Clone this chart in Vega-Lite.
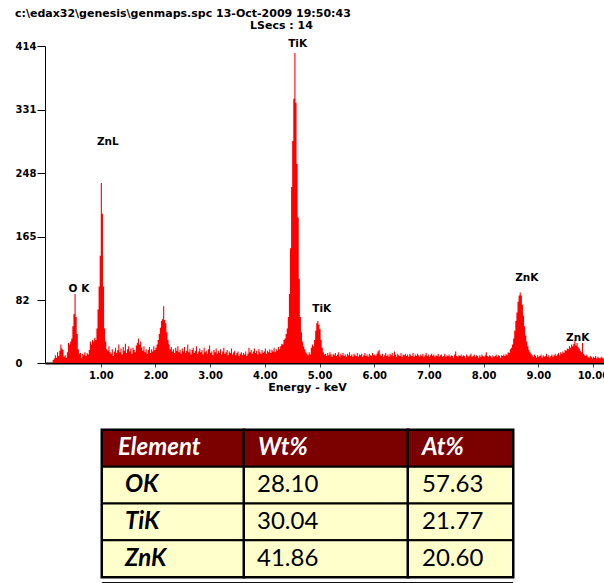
{
  "$schema": "https://vega.github.io/schema/vega-lite/v6.json",
  "padding": {"left": 15, "top": 8, "right": 0, "bottom": 0},
  "background": "white",
  "title": {"text": "c:\\edax32\\genesis\\genmaps.spc  13-Oct-2009 19:50:43", "anchor": "start", "frame": "bounds", "font": "DejaVu Sans", "fontWeight": "bold", "fontSize": 11, "color": "black", "offset": 1},
  "config": {"view": {"stroke": null}},
  "spacing": 35,
  "datasets": {
    "tbl": [
      {"r": "h", "k": "head", "el": "Element", "wt": "Wt%", "at": "At%"},
      {"r": "OK", "k": "body", "el": "\u00a0OK", "wt": "28.10", "at": "57.63"},
      {"r": "TiK", "k": "body", "el": "TiK", "wt": "30.04", "at": "21.77"},
      {"r": "ZnK", "k": "body", "el": "ZnK", "wt": "41.86", "at": "20.60"}
    ],
    "peaks": [
      {"e": 0.6, "c": 97, "t": "O K"},
      {"e": 1.13, "c": 289, "t": "ZnL"},
      {"e": 4.6, "c": 416, "t": "TiK"},
      {"e": 5.04, "c": 70, "t": "TiK"},
      {"e": 8.79, "c": 111, "t": "ZnK"},
      {"e": 9.72, "c": 33, "t": "ZnK"}
    ],
    "spec": [
      {"e":0.10,"c":0},{"e":0.12,"c":4},{"e":0.14,"c":6},{"e":0.16,"c":10},{"e":0.18,"c":7},{"e":0.20,"c":14},{"e":0.22,"c":9},{"e":0.24,"c":16},{"e":0.26,"c":24},{"e":0.28,"c":19},
      {"e":0.30,"c":17},{"e":0.32,"c":8},{"e":0.34,"c":10},{"e":0.36,"c":7},{"e":0.38,"c":14},{"e":0.40,"c":26},{"e":0.42,"c":24},{"e":0.44,"c":28},{"e":0.46,"c":32},{"e":0.48,"c":48},
      {"e":0.50,"c":64},{"e":0.52,"c":90},{"e":0.54,"c":60},{"e":0.56,"c":38},{"e":0.58,"c":18},{"e":0.60,"c":12},{"e":0.62,"c":13},{"e":0.64,"c":7},{"e":0.66,"c":12},{"e":0.68,"c":10},
      {"e":0.70,"c":14},{"e":0.72,"c":9},{"e":0.74,"c":13},{"e":0.76,"c":11},{"e":0.78,"c":17},{"e":0.80,"c":28},{"e":0.82,"c":24},{"e":0.84,"c":30},{"e":0.86,"c":28},{"e":0.88,"c":33},
      {"e":0.90,"c":30},{"e":0.92,"c":45},{"e":0.94,"c":70},{"e":0.96,"c":100},{"e":0.98,"c":140},{"e":1.00,"c":235},{"e":1.02,"c":195},{"e":1.04,"c":100},{"e":1.06,"c":45},{"e":1.08,"c":28},
      {"e":1.10,"c":18},{"e":1.12,"c":16},{"e":1.14,"c":22},{"e":1.16,"c":14},{"e":1.18,"c":12},{"e":1.20,"c":18},{"e":1.22,"c":9},{"e":1.24,"c":15},{"e":1.26,"c":20},{"e":1.28,"c":13},
      {"e":1.30,"c":17},{"e":1.32,"c":24},{"e":1.34,"c":14},{"e":1.36,"c":19},{"e":1.38,"c":11},{"e":1.40,"c":21},{"e":1.42,"c":16},{"e":1.44,"c":25},{"e":1.46,"c":13},{"e":1.48,"c":18},
      {"e":1.50,"c":22},{"e":1.52,"c":15},{"e":1.54,"c":19},{"e":1.56,"c":12},{"e":1.58,"c":20},{"e":1.60,"c":17},{"e":1.62,"c":14},{"e":1.64,"c":23},{"e":1.66,"c":26},{"e":1.68,"c":32},
      {"e":1.70,"c":24},{"e":1.72,"c":28},{"e":1.74,"c":20},{"e":1.76,"c":16},{"e":1.78,"c":22},{"e":1.80,"c":14},{"e":1.82,"c":18},{"e":1.84,"c":12},{"e":1.86,"c":17},{"e":1.88,"c":21},
      {"e":1.90,"c":13},{"e":1.92,"c":18},{"e":1.94,"c":15},{"e":1.96,"c":22},{"e":1.98,"c":17},{"e":2.00,"c":20},{"e":2.02,"c":24},{"e":2.04,"c":30},{"e":2.06,"c":38},{"e":2.08,"c":46},
      {"e":2.10,"c":55},{"e":2.12,"c":57},{"e":2.14,"c":74},{"e":2.16,"c":56},{"e":2.18,"c":52},{"e":2.20,"c":40},{"e":2.22,"c":30},{"e":2.24,"c":24},{"e":2.26,"c":18},{"e":2.28,"c":21},
      {"e":2.30,"c":15},{"e":2.32,"c":18},{"e":2.34,"c":13},{"e":2.36,"c":20},{"e":2.38,"c":16},{"e":2.40,"c":22},{"e":2.42,"c":14},{"e":2.44,"c":17},{"e":2.46,"c":12},{"e":2.48,"c":19},
      {"e":2.50,"c":15},{"e":2.52,"c":21},{"e":2.54,"c":13},{"e":2.56,"c":16},{"e":2.58,"c":24},{"e":2.60,"c":14},{"e":2.62,"c":18},{"e":2.64,"c":11},{"e":2.66,"c":17},{"e":2.68,"c":20},
      {"e":2.70,"c":13},{"e":2.72,"c":16},{"e":2.74,"c":22},{"e":2.76,"c":12},{"e":2.78,"c":15},{"e":2.80,"c":19},{"e":2.82,"c":14},{"e":2.84,"c":17},{"e":2.86,"c":11},{"e":2.88,"c":20},
      {"e":2.90,"c":14},{"e":2.92,"c":16},{"e":2.94,"c":12},{"e":2.96,"c":18},{"e":2.98,"c":23},{"e":3.00,"c":13},{"e":3.02,"c":15},{"e":3.04,"c":10},{"e":3.06,"c":17},{"e":3.08,"c":14},
      {"e":3.10,"c":19},{"e":3.12,"c":12},{"e":3.14,"c":16},{"e":3.16,"c":13},{"e":3.18,"c":18},{"e":3.20,"c":11},{"e":3.22,"c":15},{"e":3.24,"c":20},{"e":3.26,"c":12},{"e":3.28,"c":14},
      {"e":3.30,"c":17},{"e":3.32,"c":10},{"e":3.34,"c":15},{"e":3.36,"c":13},{"e":3.38,"c":19},{"e":3.40,"c":11},{"e":3.42,"c":14},{"e":3.44,"c":16},{"e":3.46,"c":10},{"e":3.48,"c":13},
      {"e":3.50,"c":15},{"e":3.52,"c":9},{"e":3.54,"c":12},{"e":3.56,"c":14},{"e":3.58,"c":10},{"e":3.60,"c":13},{"e":3.62,"c":11},{"e":3.64,"c":15},{"e":3.66,"c":9},{"e":3.68,"c":12},
      {"e":3.70,"c":20},{"e":3.72,"c":14},{"e":3.74,"c":17},{"e":3.76,"c":12},{"e":3.78,"c":15},{"e":3.80,"c":19},{"e":3.82,"c":13},{"e":3.84,"c":16},{"e":3.86,"c":11},{"e":3.88,"c":18},
      {"e":3.90,"c":14},{"e":3.92,"c":12},{"e":3.94,"c":17},{"e":3.96,"c":13},{"e":3.98,"c":15},{"e":4.00,"c":19},{"e":4.02,"c":12},{"e":4.04,"c":16},{"e":4.06,"c":14},{"e":4.08,"c":18},
      {"e":4.10,"c":13},{"e":4.12,"c":17},{"e":4.14,"c":15},{"e":4.16,"c":20},{"e":4.18,"c":14},{"e":4.20,"c":18},{"e":4.22,"c":16},{"e":4.24,"c":21},{"e":4.26,"c":18},{"e":4.28,"c":22},
      {"e":4.30,"c":25},{"e":4.32,"c":24},{"e":4.34,"c":30},{"e":4.36,"c":32},{"e":4.38,"c":38},{"e":4.40,"c":45},{"e":4.42,"c":60},{"e":4.44,"c":90},{"e":4.46,"c":150},{"e":4.48,"c":230},
      {"e":4.50,"c":290},{"e":4.52,"c":345},{"e":4.54,"c":405},{"e":4.56,"c":340},{"e":4.58,"c":260},{"e":4.60,"c":190},{"e":4.62,"c":110},{"e":4.64,"c":60},{"e":4.66,"c":40},{"e":4.68,"c":28},
      {"e":4.70,"c":22},{"e":4.72,"c":18},{"e":4.74,"c":14},{"e":4.76,"c":12},{"e":4.78,"c":10},{"e":4.80,"c":14},{"e":4.82,"c":11},{"e":4.84,"c":20},{"e":4.86,"c":24},{"e":4.88,"c":22},
      {"e":4.90,"c":30},{"e":4.92,"c":42},{"e":4.94,"c":52},{"e":4.96,"c":55},{"e":4.98,"c":50},{"e":5.00,"c":44},{"e":5.02,"c":30},{"e":5.04,"c":20},{"e":5.06,"c":14},{"e":5.08,"c":11},
      {"e":5.10,"c":12},{"e":5.12,"c":9},{"e":5.14,"c":13},{"e":5.16,"c":10},{"e":5.18,"c":14},{"e":5.20,"c":11},{"e":5.22,"c":8},{"e":5.24,"c":12},{"e":5.26,"c":10},{"e":5.28,"c":13},
      {"e":5.30,"c":9},{"e":5.32,"c":11},{"e":5.34,"c":14},{"e":5.36,"c":8},{"e":5.38,"c":12},{"e":5.40,"c":10},{"e":5.42,"c":13},{"e":5.44,"c":9},{"e":5.46,"c":11},{"e":5.48,"c":8},
      {"e":5.50,"c":12},{"e":5.52,"c":10},{"e":5.54,"c":14},{"e":5.56,"c":9},{"e":5.58,"c":11},{"e":5.60,"c":8},{"e":5.62,"c":12},{"e":5.64,"c":10},{"e":5.66,"c":9},{"e":5.68,"c":13},
      {"e":5.70,"c":8},{"e":5.72,"c":11},{"e":5.74,"c":10},{"e":5.76,"c":12},{"e":5.78,"c":8},{"e":5.80,"c":10},{"e":5.82,"c":13},{"e":5.84,"c":9},{"e":5.86,"c":11},{"e":5.88,"c":8},
      {"e":5.90,"c":12},{"e":5.92,"c":10},{"e":5.94,"c":9},{"e":5.96,"c":13},{"e":5.98,"c":10},{"e":6.00,"c":11},{"e":6.02,"c":9},{"e":6.04,"c":12},{"e":6.06,"c":15},{"e":6.08,"c":17},
      {"e":6.10,"c":11},{"e":6.12,"c":9},{"e":6.14,"c":12},{"e":6.16,"c":8},{"e":6.18,"c":10},{"e":6.20,"c":13},{"e":6.22,"c":9},{"e":6.24,"c":11},{"e":6.26,"c":8},{"e":6.28,"c":12},
      {"e":6.30,"c":10},{"e":6.32,"c":13},{"e":6.34,"c":9},{"e":6.36,"c":15},{"e":6.38,"c":11},{"e":6.40,"c":8},{"e":6.42,"c":12},{"e":6.44,"c":10},{"e":6.46,"c":9},{"e":6.48,"c":13},
      {"e":6.50,"c":8},{"e":6.52,"c":11},{"e":6.54,"c":10},{"e":6.56,"c":12},{"e":6.58,"c":9},{"e":6.60,"c":11},{"e":6.62,"c":8},{"e":6.64,"c":12},{"e":6.66,"c":10},{"e":6.68,"c":9},
      {"e":6.70,"c":13},{"e":6.72,"c":8},{"e":6.74,"c":11},{"e":6.76,"c":9},{"e":6.78,"c":12},{"e":6.80,"c":10},{"e":6.82,"c":8},{"e":6.84,"c":11},{"e":6.86,"c":9},{"e":6.88,"c":12},
      {"e":6.90,"c":8},{"e":6.92,"c":10},{"e":6.94,"c":13},{"e":6.96,"c":9},{"e":6.98,"c":11},{"e":7.00,"c":8},{"e":7.02,"c":10},{"e":7.04,"c":12},{"e":7.06,"c":9},{"e":7.08,"c":11},
      {"e":7.10,"c":8},{"e":7.12,"c":10},{"e":7.14,"c":9},{"e":7.16,"c":12},{"e":7.18,"c":8},{"e":7.20,"c":10},{"e":7.22,"c":11},{"e":7.24,"c":8},{"e":7.26,"c":9},{"e":7.28,"c":12},
      {"e":7.30,"c":8},{"e":7.32,"c":10},{"e":7.34,"c":9},{"e":7.36,"c":11},{"e":7.38,"c":8},{"e":7.40,"c":10},{"e":7.42,"c":9},{"e":7.44,"c":7},{"e":7.46,"c":11},{"e":7.48,"c":15},
      {"e":7.50,"c":9},{"e":7.52,"c":8},{"e":7.54,"c":10},{"e":7.56,"c":9},{"e":7.58,"c":11},{"e":7.60,"c":8},{"e":7.62,"c":10},{"e":7.64,"c":9},{"e":7.66,"c":7},{"e":7.68,"c":11},
      {"e":7.70,"c":9},{"e":7.72,"c":8},{"e":7.74,"c":10},{"e":7.76,"c":12},{"e":7.78,"c":8},{"e":7.80,"c":9},{"e":7.82,"c":11},{"e":7.84,"c":8},{"e":7.86,"c":10},{"e":7.88,"c":9},
      {"e":7.90,"c":7},{"e":7.92,"c":10},{"e":7.94,"c":8},{"e":7.96,"c":11},{"e":7.98,"c":9},{"e":8.00,"c":8},{"e":8.02,"c":10},{"e":8.04,"c":14},{"e":8.06,"c":9},{"e":8.08,"c":8},
      {"e":8.10,"c":10},{"e":8.12,"c":9},{"e":8.14,"c":7},{"e":8.16,"c":10},{"e":8.18,"c":8},{"e":8.20,"c":9},{"e":8.22,"c":11},{"e":8.24,"c":8},{"e":8.26,"c":10},{"e":8.28,"c":9},
      {"e":8.30,"c":7},{"e":8.32,"c":10},{"e":8.34,"c":9},{"e":8.36,"c":11},{"e":8.38,"c":9},{"e":8.40,"c":12},{"e":8.42,"c":10},{"e":8.44,"c":14},{"e":8.46,"c":13},{"e":8.48,"c":18},
      {"e":8.50,"c":20},{"e":8.52,"c":24},{"e":8.54,"c":32},{"e":8.56,"c":42},{"e":8.58,"c":55},{"e":8.60,"c":66},{"e":8.62,"c":80},{"e":8.64,"c":88},{"e":8.66,"c":92},{"e":8.68,"c":88},
      {"e":8.70,"c":76},{"e":8.72,"c":62},{"e":8.74,"c":48},{"e":8.76,"c":36},{"e":8.78,"c":28},{"e":8.80,"c":22},{"e":8.82,"c":17},{"e":8.84,"c":14},{"e":8.86,"c":12},{"e":8.88,"c":10},
      {"e":8.90,"c":8},{"e":8.92,"c":11},{"e":8.94,"c":9},{"e":8.96,"c":7},{"e":8.98,"c":10},{"e":9.00,"c":8},{"e":9.02,"c":9},{"e":9.04,"c":11},{"e":9.06,"c":7},{"e":9.08,"c":10},
      {"e":9.10,"c":8},{"e":9.12,"c":9},{"e":9.14,"c":12},{"e":9.16,"c":8},{"e":9.18,"c":10},{"e":9.20,"c":7},{"e":9.22,"c":9},{"e":9.24,"c":11},{"e":9.26,"c":8},{"e":9.28,"c":10},
      {"e":9.30,"c":12},{"e":9.32,"c":9},{"e":9.34,"c":11},{"e":9.36,"c":13},{"e":9.38,"c":10},{"e":9.40,"c":14},{"e":9.42,"c":12},{"e":9.44,"c":15},{"e":9.46,"c":13},{"e":9.48,"c":17},
      {"e":9.50,"c":16},{"e":9.52,"c":19},{"e":9.54,"c":18},{"e":9.56,"c":22},{"e":9.58,"c":20},{"e":9.60,"c":24},{"e":9.62,"c":22},{"e":9.64,"c":25},{"e":9.66,"c":30},{"e":9.68,"c":23},
      {"e":9.70,"c":26},{"e":9.72,"c":21},{"e":9.74,"c":19},{"e":9.76,"c":16},{"e":9.78,"c":14},{"e":9.80,"c":26},{"e":9.82,"c":12},{"e":9.84,"c":10},{"e":9.86,"c":9},{"e":9.88,"c":11},
      {"e":9.90,"c":8},{"e":9.92,"c":7},{"e":9.94,"c":9},{"e":9.96,"c":8},{"e":9.98,"c":6},{"e":10.00,"c":8},{"e":10.02,"c":7},{"e":10.04,"c":9},{"e":10.06,"c":6},{"e":10.08,"c":8},
      {"e":10.10,"c":7},{"e":10.12,"c":6},{"e":10.14,"c":8},{"e":10.16,"c":7},{"e":10.18,"c":6},{"e":10.20,"c":7}
    ]
  },
  "vconcat": [
    {
      "width": 560,
      "height": 317,
      "view": {"stroke": null},
      "title": {"text": "LSecs :  14", "anchor": "start", "frame": "group", "dx": 205, "font": "DejaVu Sans", "fontWeight": "bold", "fontSize": 11, "color": "black", "offset": 8},
      "layer": [
        {
          "data": {"name": "spec"},
          "mark": {"type": "area", "interpolate": "step-after", "color": "#FF0000", "clip": true},
          "encoding": {
            "x": {"field": "e", "type": "quantitative",
              "scale": {"domain": [-0.02, 10.22], "nice": false, "zero": false},
              "axis": {"values": [1, 2, 3, 4, 5, 6, 7, 8, 9, 10], "format": ".2f", "grid": false,
                "tickSize": 4, "tickColor": "#444444", "domainColor": "black", "domainWidth": 2,
                "labelPadding": 3, "labelFont": "DejaVu Sans", "labelFontWeight": "bold", "labelFontSize": 10, "labelColor": "black", "labelFlush": false, "labelOverlap": false,
                "title": "Energy - keV", "titleFont": "DejaVu Sans", "titleFontWeight": "bold", "titleFontSize": 11, "titleColor": "black", "titleX": 262, "titlePadding": 1}},
            "y": {"field": "c", "type": "quantitative",
              "scale": {"domain": [0, 414], "nice": false},
              "axis": {"values": [0, 82, 165, 248, 331, 414], "grid": false, "title": null,
                "tickSize": 8, "tickColor": "black", "domainColor": "black", "domainWidth": 1,
                "labelAlign": "left", "labelPadding": 22, "labelFont": "DejaVu Sans", "labelFontWeight": "bold", "labelFontSize": 10, "labelColor": "black", "labelFlush": false, "labelOverlap": false}}
          }
        },
        {
          "data": {"name": "peaks"},
          "mark": {"type": "text", "font": "DejaVu Sans", "fontWeight": "bold", "fontSize": 10.5, "color": "black", "baseline": "middle"},
          "encoding": {
            "x": {"field": "e", "type": "quantitative"},
            "y": {"field": "c", "type": "quantitative"},
            "text": {"field": "t"}
          }
        }
      ]
    },
    {
      "spacing": 0,
      "bounds": "flush",
      "hconcat": [
        {
          "width": 57, "height": 147,
          "view": {"stroke": null},
          "data": {"values": [{}]},
          "mark": {"type": "text"},
          "encoding": {"text": {"value": ""}}
        },
        {
          "width": 142, "height": 147,
          "view": {"stroke": "black", "strokeWidth": 3},
          "data": {"name": "tbl"},
          "encoding": {"y": {"field": "r", "type": "nominal", "sort": null, "scale": {"domain": ["h", "OK", "TiK", "ZnK"], "paddingInner": 0, "paddingOuter": 0}, "axis": null}},
          "layer": [
            {"mark": {"type": "rect", "stroke": "black", "strokeWidth": 2},
             "encoding": {"x": {"value": 0}, "x2": {"value": "width"}, "fill": {"field": "k", "type": "nominal", "scale": {"domain": ["head", "body"], "range": ["#7B0000", "#FFFFCC"]}, "legend": null}}},
            {"transform": [{"filter": "datum.k == 'head'"}],
             "mark": {"type": "text", "align": "left", "baseline": "middle", "dx": 16, "font": "Lato", "fontSize": 24, "fontWeight": "bold", "fontStyle": "italic", "color": "white"},
             "encoding": {"x": {"value": 0}, "text": {"field": "el"}}},
            {"transform": [{"filter": "datum.k == 'body'"}],
             "mark": {"type": "text", "align": "left", "baseline": "middle", "dx": 23, "font": "Lato", "fontSize": 24, "fontWeight": "bold", "fontStyle": "italic", "color": "black"},
             "encoding": {"x": {"value": 0}, "text": {"field": "el"}}},
            {"mark": {"type": "rule", "color": "black", "strokeWidth": 3, "yOffset": 7},
             "encoding": {"x": {"value": 0}, "x2": {"value": "width"}, "y": {"value": "height"}}}
          ]
        },
        {
          "width": 164, "height": 147,
          "view": {"stroke": "black", "strokeWidth": 3},
          "data": {"name": "tbl"},
          "encoding": {"y": {"field": "r", "type": "nominal", "sort": null, "scale": {"domain": ["h", "OK", "TiK", "ZnK"], "paddingInner": 0, "paddingOuter": 0}, "axis": null}},
          "layer": [
            {"mark": {"type": "rect", "stroke": "black", "strokeWidth": 2},
             "encoding": {"x": {"value": 0}, "x2": {"value": "width"}, "fill": {"field": "k", "type": "nominal", "scale": {"domain": ["head", "body"], "range": ["#7B0000", "#FFFFCC"]}, "legend": null}}},
            {"transform": [{"filter": "datum.k == 'head'"}],
             "mark": {"type": "text", "align": "left", "baseline": "middle", "dx": 14, "font": "Lato", "fontSize": 24, "fontWeight": "bold", "fontStyle": "italic", "color": "white"},
             "encoding": {"x": {"value": 0}, "text": {"field": "wt"}}},
            {"transform": [{"filter": "datum.k == 'body'"}],
             "mark": {"type": "text", "align": "left", "baseline": "middle", "dx": 13, "font": "Lato", "fontSize": 24, "color": "black"},
             "encoding": {"x": {"value": 0}, "text": {"field": "wt"}}},
            {"mark": {"type": "rule", "color": "black", "strokeWidth": 3, "yOffset": 7},
             "encoding": {"x": {"value": 0}, "x2": {"value": "width"}, "y": {"value": "height"}}}
          ]
        },
        {
          "width": 105, "height": 147,
          "view": {"stroke": "black", "strokeWidth": 3},
          "data": {"name": "tbl"},
          "encoding": {"y": {"field": "r", "type": "nominal", "sort": null, "scale": {"domain": ["h", "OK", "TiK", "ZnK"], "paddingInner": 0, "paddingOuter": 0}, "axis": null}},
          "layer": [
            {"mark": {"type": "rect", "stroke": "black", "strokeWidth": 2},
             "encoding": {"x": {"value": 0}, "x2": {"value": "width"}, "fill": {"field": "k", "type": "nominal", "scale": {"domain": ["head", "body"], "range": ["#7B0000", "#FFFFCC"]}, "legend": null}}},
            {"transform": [{"filter": "datum.k == 'head'"}],
             "mark": {"type": "text", "align": "left", "baseline": "middle", "dx": 14, "font": "Lato", "fontSize": 24, "fontWeight": "bold", "fontStyle": "italic", "color": "white"},
             "encoding": {"x": {"value": 0}, "text": {"field": "at"}}},
            {"transform": [{"filter": "datum.k == 'body'"}],
             "mark": {"type": "text", "align": "left", "baseline": "middle", "dx": 14, "font": "Lato", "fontSize": 24, "color": "black"},
             "encoding": {"x": {"value": 0}, "text": {"field": "at"}}},
            {"mark": {"type": "rule", "color": "black", "strokeWidth": 3, "yOffset": 7},
             "encoding": {"x": {"value": 0}, "x2": {"value": "width"}, "y": {"value": "height"}}}
          ]
        }
      ]
    }
  ]
}
